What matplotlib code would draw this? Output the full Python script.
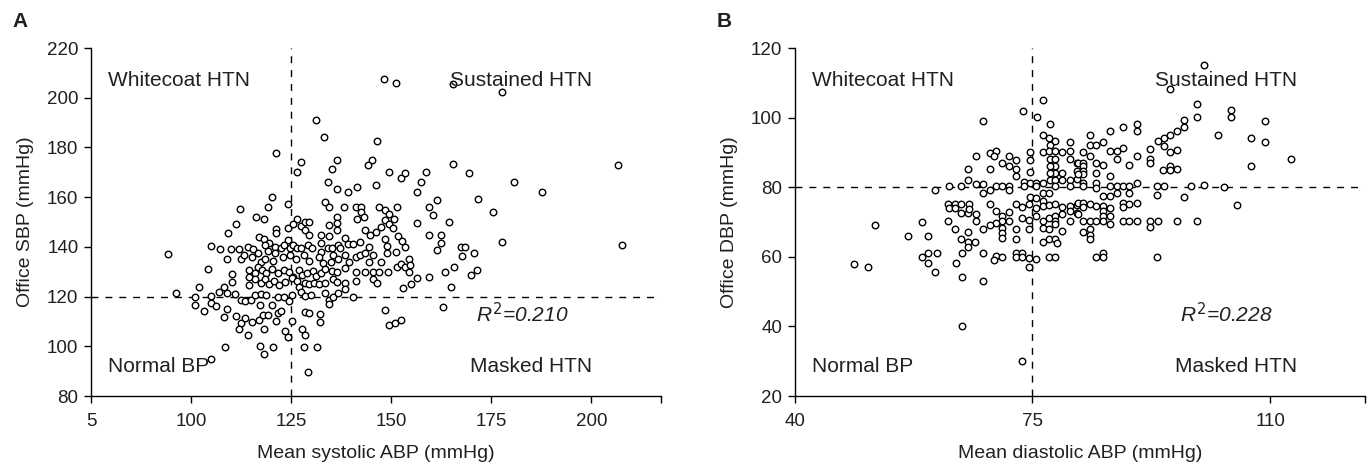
import matplotlib.pyplot as plt

plt.rcParams['font.family'] = ['Liberation Sans', 'DejaVu Sans']
plt.rcParams['mathtext.fontset'] = 'custom'
plt.rcParams['mathtext.it'] = 'Liberation Sans:italic'
plt.rcParams['mathtext.rm'] = 'Liberation Sans'

# Panel A: mean systolic ABP vs office SBP (mmHg)
sbp_abp = [
    131.3, 133.2, 146.4, 121.3, 127.4, 136.4, 145.3, 144.2, 149.5, 126.4, 135.2, 134.2, 136.4, 139.3, 141.5, 146.3,
    120.3, 124.3, 119.3, 112.2, 133.4, 134.4, 138.3, 141.2, 142.5, 142.5, 146.9, 148.4, 149.5, 116.3, 118.3, 111.3,
    109.2, 121.1, 121.1, 124.3, 126.4, 125.4, 127.4, 128.4, 129.5, 128.4, 129.4, 136.4, 136.4, 136.4, 134.4, 141.5,
    143.3, 143.5, 144.7, 146.3, 147.4, 148.4, 149.5, 150.4, 132.4, 134.4, 117.1, 118.3, 119.5, 124.3, 138.5, 139.3,
    140.4, 142.3, 148.5, 148.9, 105.1, 107.2, 110.1, 112.1, 114.2, 115.6,
    118.5, 119.3, 121.0, 122.4, 123.2, 124.7, 125.4, 126.4, 127.5, 129.3, 130.3, 132.5, 132.5, 134.1, 135.1, 136.6,
    137.1, 144.4, 94.3,
    109.1, 112.4, 113.3, 115.2, 116.7, 117.4, 118.5, 120.5, 121.0, 123.0, 124.7, 126.2, 128.2, 129.5, 132.0, 132.9,
    134.9, 135.4, 136.8, 138.5, 139.4, 141.2, 142.3, 143.5, 144.4, 145.4, 147.4, 149.0,
    104.3, 110.3, 114.5, 116.0, 116.7, 117.8, 118.7, 120.3, 121.6, 123.3, 124.5, 125.5, 126.9, 127.7, 128.9, 130.4,
    131.2, 132.5, 133.4, 135.2, 136.5, 138.5, 141.2, 143.5, 145.4, 147.0, 149.2, 114.5,
    102.1, 108.2, 110.3, 114.5, 116.1, 117.4, 118.5, 119.5, 120.8, 122.0, 123.5, 125.2, 126.4, 127.0, 128.4, 129.5,
    130.8, 132.0, 133.4, 135.4, 136.5, 138.5, 138.5, 141.2, 145.4, 146.4,
    96.3, 101.1, 105.1, 107.0, 109.1, 111.1, 112.4, 113.6, 114.9, 116.1, 117.4, 118.7, 121.6, 123.3, 124.5, 125.3,
    127.4, 128.5, 129.9, 133.4, 134.4, 135.4, 136.8, 140.4,
    101.1, 103.2, 105.1, 106.3, 109.1, 108.3, 111.3, 112.4, 113.5, 112.1, 114.3, 115.3, 117.0, 117.2, 118.0, 118.3,
    119.3, 120.3, 121.3, 121.6, 122.4, 123.4, 124.3, 125.3, 127.7, 128.4, 129.5, 128.4, 132.3, 132.3, 134.4, 148.5,
    149.4,
    108.5, 117.3, 118.3, 120.4, 128.2, 131.4, 105.1, 129.3,
    152.4, 153.4, 158.6, 157.5, 156.5, 165.4, 169.5, 180.6, 187.6, 206.7, 151.5, 150.6, 151.6, 152.6, 153.4, 151.2,
    151.4, 152.4, 153.4, 154.5, 154.6, 154.5, 156.5, 159.5, 160.5, 161.5, 164.5, 171.6, 175.5, 159.5, 162.5, 162.5,
    161.5, 167.4, 168.5, 167.6, 170.6, 177.7, 207.7, 165.6, 163.4, 159.5, 156.4, 171.5,
    148.2, 151.3, 165.4, 177.6,
    151.0, 152.5, 153.0, 155.0, 163.0, 165.0, 170.0,
]
sbp_office = [
    191.1, 184.1, 182.6, 177.9, 174.0, 174.9, 174.9, 173.0, 170.2, 170.0, 171.2, 166.1, 163.1, 162.1, 164.1, 165.0,
    160.0, 157.1, 156.1, 155.1, 158.0, 156.1, 156.0, 156.0, 156.0, 154.1, 156.0, 154.8, 153.1, 152.0, 151.1, 149.3,
    145.7, 147.3, 145.7, 147.5, 151.2, 149.3, 148.5, 150.0, 150.0, 146.9, 144.9, 152.0, 149.6, 146.9, 148.9, 151.2,
    152.0, 146.9, 144.9, 146.1, 148.1, 150.8, 149.3, 147.5, 144.9, 144.5, 144.1, 143.0, 141.7, 142.8, 143.4, 141.1,
    141.1, 141.9, 143.0, 140.5, 140.5, 139.0, 139.0, 139.2, 140.1, 139.2,
    140.6, 138.3, 140.1, 139.4, 140.6, 139.4, 140.6, 139.4, 139.4, 140.6, 139.4, 141.4, 138.1, 139.4, 139.4, 140.6,
    139.4, 139.8, 137.2,
    135.0, 135.0, 136.6, 136.0, 137.4, 133.9, 135.0, 134.4, 137.4, 136.0, 136.6, 135.2, 136.8, 134.4, 135.8, 133.4,
    133.9, 136.6, 135.0, 136.6, 133.9, 135.8, 136.6, 137.4, 133.9, 136.8, 133.9, 137.4,
    131.0, 129.1, 130.7, 129.6, 132.0, 130.7, 129.4, 131.0, 129.4, 130.7, 129.9, 128.0, 130.7, 128.5, 129.4, 130.4,
    128.3, 129.6, 131.0, 130.2, 129.9, 131.5, 129.9, 129.9, 129.9, 129.9, 129.9, 128.0,
    124.0, 124.0, 126.0, 124.8, 126.9, 125.3, 126.9, 125.1, 126.4, 124.8, 125.9, 127.5, 126.1, 124.0, 125.3, 125.1,
    125.3, 125.1, 125.3, 126.9, 125.9, 125.3, 122.9, 126.1, 127.2, 125.6,
    121.3, 119.9, 120.2, 122.0, 121.3, 121.0, 118.6, 118.1, 118.6, 120.6, 121.0, 120.6, 119.7, 119.9, 118.3, 120.6,
    122.0, 120.2, 120.6, 121.3, 118.6, 119.9, 121.3, 119.9,
    116.6, 114.3, 117.5, 116.2, 114.9, 111.9, 112.2, 109.5, 111.4, 106.8, 104.7, 109.8, 110.6, 116.7, 112.5, 107.1,
    112.5, 116.7, 110.3, 113.5, 114.1, 106.0, 103.6, 110.2, 106.8, 113.8, 113.3, 104.4, 113.0, 109.8, 117.0, 114.6,
    108.6,
    99.8, 100.1, 96.9, 99.6, 99.6, 99.8, 94.8, 89.7,
    167.8, 169.8, 170.1, 166.2, 161.9, 173.2, 169.8, 166.0, 161.9, 172.9, 156.0, 151.1, 144.5, 142.3, 139.9, 137.9,
    132.0, 133.2, 132.0, 135.1, 132.6, 129.9, 149.7, 156.0, 152.8, 158.8, 150.1, 159.1, 153.9, 144.9, 144.9, 141.7,
    138.6, 139.9, 139.9, 136.2, 137.6, 141.8, 140.7, 132.0, 129.9, 128.0, 127.3, 130.7,
    207.4, 205.8, 205.5, 202.4,
    109.5, 110.5, 123.5, 125.0, 116.0, 124.0, 128.5,
]

# Panel B: mean diastolic ABP vs office DBP (mmHg)
dbp_abp = [
    76.5, 73.6, 75.7, 67.7, 77.6, 76.5, 77.4, 78.4, 77.6, 80.5, 74.6, 74.6, 76.5, 77.4, 78.4, 79.4,
    80.5, 77.6, 78.4, 78.4, 78.4, 79.4, 80.5, 81.5, 66.7, 68.7, 69.6, 69.4, 70.6, 71.6, 72.6, 71.6,
    72.6, 65.6, 68.7, 74.6, 72.6, 65.6, 66.7, 67.7, 64.5, 62.7, 60.6, 69.6, 70.6, 71.6, 71.6, 68.7,
    67.7, 73.7, 73.7, 74.6, 75.5, 76.5, 75.5, 77.6, 77.6, 77.6, 78.4, 78.4, 79.4, 80.5, 80.5, 81.5,
    81.5, 76.5, 77.4, 74.6, 75.5, 76.5, 62.6, 63.6, 64.5, 65.7, 62.7, 63.6, 64.5, 65.5, 66.7, 65.7,
    68.7, 69.6, 70.6, 71.6, 71.6, 70.6, 69.6, 68.7, 67.7, 70.6, 70.6, 70.6, 66.7, 62.6, 63.6, 65.6,
    64.5, 65.5, 66.5, 65.5, 72.6, 73.5, 74.5, 75.5, 76.5, 77.4, 78.4, 79.4, 80.5, 81.5, 73.5, 74.5,
    75.5, 76.5, 77.4, 78.4, 79.4, 80.5, 81.5, 74.5, 76.5, 78.4, 78.4, 79.4, 80.6, 72.6, 72.6, 77.4,
    76.5, 77.4, 78.4, 78.6, 51.8, 58.7, 56.7, 59.7, 58.7, 59.7, 60.9, 59.7, 60.7, 48.7, 50.8, 64.6,
    67.7, 69.6, 70.6, 69.4, 72.6, 73.5, 72.6, 73.5, 74.5, 75.5, 74.5, 77.4, 78.4, 63.7, 64.6, 67.7,
    64.6, 73.5,
    100.2, 95.3, 99.3, 99.3, 104.2, 104.2, 109.2, 97.3, 97.3, 96.3, 95.2, 94.4, 94.4, 93.5, 95.2, 96.3,
    102.3, 107.2, 109.2, 113.1, 107.2, 90.4, 90.4, 88.4, 86.4, 83.5, 83.5, 84.4, 85.4, 82.5, 83.5, 86.4,
    87.4, 87.4, 88.4, 90.4, 89.3, 92.3, 92.3, 92.3, 94.3, 95.3, 95.3, 96.3, 81.7, 82.4, 82.4, 82.4,
    82.4, 81.7, 84.4, 85.4, 84.4, 86.4, 82.4, 82.4, 84.4, 84.4, 86.4, 87.4, 88.4, 89.3, 90.4, 93.3,
    94.4, 98.4, 100.2, 103.2, 85.4, 86.4, 87.4, 89.3, 93.3, 97.3, 105.2, 81.7, 82.4, 82.4, 83.5, 84.4,
    85.4, 86.4, 85.4, 85.4, 86.4, 88.4, 89.3, 88.4, 90.4, 81.7, 82.4, 83.5, 84.4, 85.4, 86.4, 88.4,
    89.3, 90.4, 92.3, 92.3, 93.5, 96.3, 99.3, 82.5, 83.5, 83.5, 83.5, 84.4, 85.4, 85.4, 93.4,
]
dbp_office = [
    105.0, 102.0, 100.3, 99.1, 98.1, 95.0, 94.1, 93.4, 92.0, 92.9, 90.0, 87.9, 90.0, 90.3, 90.3, 90.0,
    90.3, 88.1, 88.1, 86.0, 84.1, 84.1, 88.1, 86.9, 89.1, 89.8, 90.5, 89.1, 87.1, 89.0, 87.9, 86.0,
    85.2, 85.2, 85.2, 84.3, 83.1, 82.2, 81.0, 81.0, 80.3, 80.3, 79.3, 80.3, 80.3, 80.3, 79.1, 79.3,
    78.2, 81.4, 80.3, 81.2, 81.2, 81.2, 80.3, 86.0, 84.1, 82.2, 82.2, 80.3, 82.2, 82.2, 80.3, 82.4,
    84.6, 78.2, 78.2, 77.2, 76.9, 76.0, 75.3, 75.3, 75.3, 75.3, 74.1, 74.1, 72.6, 72.6, 72.2, 73.8,
    75.3, 73.1, 71.7, 72.8, 70.2, 70.2, 69.8, 69.0, 68.1, 68.3, 66.9, 65.5, 70.2, 70.2, 68.1, 67.1,
    65.0, 64.2, 64.2, 62.9, 75.3, 74.3, 75.3, 74.1, 74.5, 75.0, 75.3, 74.3, 74.5, 75.0, 71.2, 70.5,
    71.7, 70.2, 71.2, 71.7, 72.2, 73.1, 72.6, 68.1, 68.3, 70.2, 69.3, 67.4, 70.2, 68.1, 65.0, 67.9,
    64.2, 65.2, 65.0, 63.9, 69.0, 70.0, 66.1, 66.0, 60.0, 61.2, 61.2, 58.1, 55.5, 58.0, 57.2, 61.2,
    61.2, 60.2, 60.0, 59.1, 61.2, 61.2, 60.0, 60.0, 59.8, 59.3, 57.2, 60.0, 60.0, 58.3, 54.2, 53.1,
    40.2, 30.2,
    115.2, 108.1, 104.0, 100.1, 102.1, 100.1, 99.0, 99.3, 97.2, 96.2, 95.0, 94.1, 91.9, 93.2, 90.1, 90.6,
    95.0, 94.1, 93.1, 88.1, 86.2, 98.1, 96.2, 97.2, 96.2, 95.1, 92.0, 92.2, 93.1, 90.0, 89.1, 90.3,
    90.3, 88.1, 91.2, 89.1, 86.3, 91.0, 88.1, 86.9, 85.0, 86.2, 85.0, 85.2, 87.1, 87.1, 86.0, 84.8,
    83.9, 83.9, 87.1, 86.3, 84.1, 83.1, 81.2, 80.3, 81.2, 79.8, 80.3, 80.3, 80.3, 80.3, 81.2, 80.3,
    80.3, 80.3, 80.5, 80.0, 77.6, 77.4, 78.2, 78.4, 77.7, 77.2, 75.0, 75.5, 75.5, 74.3, 75.2, 74.5,
    74.5, 74.1, 73.1, 71.7, 71.7, 75.5, 75.2, 74.3, 75.5, 72.2, 70.2, 70.2, 70.2, 70.2, 69.5, 70.2,
    70.2, 70.2, 70.2, 68.6, 70.2, 70.2, 70.2, 67.2, 68.1, 66.4, 65.0, 60.0, 61.2, 60.0, 60.0,
]

ink = '#231f20'
fig = plt.figure(figsize=(13.7, 4.68), dpi=100)
ax1 = fig.add_axes([0.0664, 0.1538, 0.4158, 0.7436])
ax2 = fig.add_axes([0.58, 0.1538, 0.4165, 0.7436])


def style(ax):
    for s in ['top', 'right']:
        ax.spines[s].set_visible(False)
    for s in ['left', 'bottom']:
        ax.spines[s].set_linewidth(1.0)
    ax.tick_params(direction='out', length=5, width=1.0, labelsize=13.5,
                   labelcolor=ink, pad=4)
    ax.tick_params(axis='x', pad=7)


# panel A
ax1.scatter(sbp_abp, sbp_office, s=22, facecolors='white', edgecolors='black',
            linewidths=1.0, zorder=3)
ax1.axvline(125, color='black', lw=1.0, ls=(0, (5, 5)), zorder=2)
ax1.axhline(120, color='black', lw=1.0, ls=(0, (5, 5)), zorder=2)
ax1.set_xlim(75, 217.3)
ax1.set_ylim(80, 220)
ax1.set_xticks([75, 100, 125, 150, 175, 200, 217.3])
ax1.set_xticklabels(['5', '100', '125', '150', '175', '200', ''])
ax1.set_yticks(range(80, 221, 20))
style(ax1)
ax1.set_xlabel('Mean systolic ABP (mmHg)', fontsize=14, color=ink)
ax1.set_ylabel('Office SBP (mmHg)', fontsize=14, color=ink)
ax1.xaxis.set_label_coords(0.5, -0.14)
ax1.yaxis.set_label_coords(-0.1, 0.5)

# panel B
ax2.scatter(dbp_abp, dbp_office, s=22, facecolors='white', edgecolors='black',
            linewidths=1.0, zorder=3)
ax2.axvline(75, color='black', lw=1.0, ls=(0, (5, 5)), zorder=2)
ax2.axhline(80, color='black', lw=1.0, ls=(0, (5, 5)), zorder=2)
ax2.set_xlim(40, 124)
ax2.set_ylim(20, 120)
ax2.set_xticks([40, 75, 110, 124])
ax2.set_xticklabels(['40', '75', '110', ''])
ax2.set_yticks(range(20, 121, 20))
style(ax2)
ax2.set_xlabel('Mean diastolic ABP (mmHg)', fontsize=14, color=ink)
ax2.set_ylabel('Office DBP (mmHg)', fontsize=14, color=ink)
ax2.xaxis.set_label_coords(0.5, -0.14)
ax2.yaxis.set_label_coords(-0.1, 0.5)

# quadrant labels and R^2
for ax, r2 in [(ax1, '0.210'), (ax2, '0.228')]:
    kw = dict(transform=ax.transAxes, fontsize=15, color=ink, va='center', zorder=4)
    ax.text(0.03, 0.908, 'Whitecoat HTN', ha='left', **kw)
    ax.text(0.88, 0.908, 'Sustained HTN', ha='right', **kw)
    ax.text(0.03, 0.086, 'Normal BP', ha='left', **kw)
    ax.text(0.88, 0.086, 'Masked HTN', ha='right', **kw)
    ax.text(0.676, 0.235, r'$R^{\mathsf{2}}$=' + r2, ha='left', style='italic', **kw)

fig.text(0.009, 0.955, 'A', fontsize=15, fontweight='bold', color=ink, va='center')
fig.text(0.523, 0.955, 'B', fontsize=15, fontweight='bold', color=ink, va='center')

fig.savefig('out.png', dpi=100)
